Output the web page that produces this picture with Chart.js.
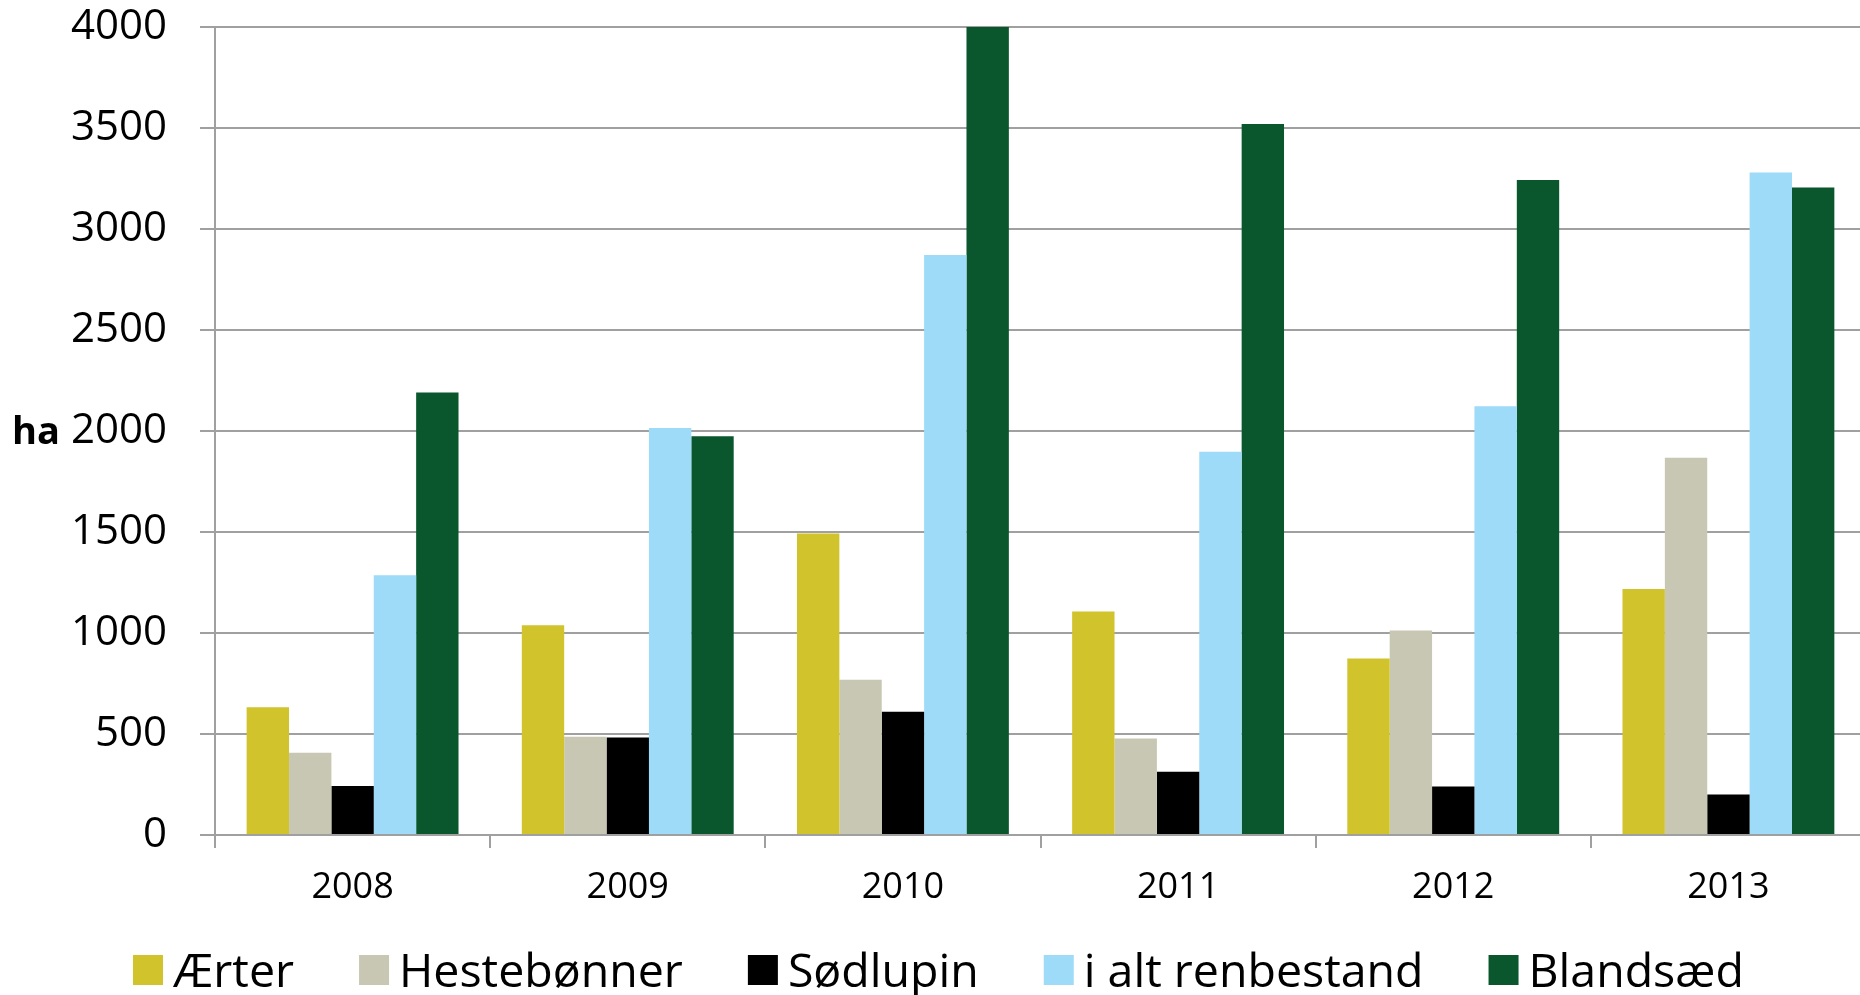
<!DOCTYPE html>
<html>
<head>
<meta charset="utf-8">
<script src="https://cdn.jsdelivr.net/npm/chart.js@4"></script>
<style>
  html, body { margin: 0; padding: 0; background: #ffffff; overflow: hidden; }
  #wrap { width: 1866px; height: 995px; position: relative; }
</style>
</head>
<body>
<div id="wrap"><canvas id="c"></canvas></div>
<script>
const categories = ['2008', '2009', '2010', '2011', '2012', '2013'];
const seriesNames = ['Ærter', 'Hestebønner', 'Sødlupin', 'i alt renbestand', 'Blandsæd'];
const aerter      = [633, 1038, 1492, 1107, 874, 1218];
const hestebonner = [407, 487, 769, 478, 1012, 1868];
const sodlupin    = [242, 483, 610, 313, 240, 200];
const renbestand  = [1286, 2015, 2871, 1897, 2122, 3280];
const blandsaed   = [2191, 1974, 4000, 3520, 3243, 3206];
const yTickMin = 0, yTickMax = 4000, yTickStep = 500;
const yTitle = 'ha';

const colors = ['#D1C32B', '#C8C7B3', '#000000', '#9DDBF8', '#0A572E'];
const seriesData = [aerter, hestebonner, sodlupin, renbestand, blandsaed];
const FONT = "'Open Sans', sans-serif";
const GRID = '#A0A0A0';

const yTitlePlugin = {
  id: 'yTitle',
  afterDraw(chart) {
    const ctx = chart.ctx, a = chart.chartArea;
    ctx.save();
    ctx.font = "bold 38px " + FONT;
    ctx.fillStyle = '#000';
    ctx.textAlign = 'left';
    ctx.textBaseline = 'middle';
    ctx.fillText(yTitle, 12, (a.top + a.bottom) / 2 + 2);
    ctx.restore();
  }
};

const legendPlugin = {
  id: 'customLegend',
  afterDraw(chart) {
    const ctx = chart.ctx;
    ctx.save();
    ctx.font = "46.5px " + FONT;
    ctx.textBaseline = 'alphabetic';
    ctx.textAlign = 'left';
    let x = 133;
    const box = 30, gap = 10, itemGap = 65, baseY = 987, boxTop = 955;
    chart.data.datasets.forEach(ds => {
      ctx.fillStyle = ds.backgroundColor;
      ctx.fillRect(x, boxTop, box, box);
      ctx.fillStyle = '#000';
      ctx.fillText(ds.label, x + box + gap, baseY);
      x += box + gap + ctx.measureText(ds.label).width + itemGap;
    });
    ctx.restore();
  }
};

new Chart(document.getElementById('c'), {
  type: 'bar',
  data: {
    labels: categories,
    datasets: seriesNames.map((n, i) => ({
      label: n,
      data: seriesData[i],
      backgroundColor: colors[i],
      borderWidth: 0,
      categoryPercentage: 0.77,
      barPercentage: 1.0
    }))
  },
  options: {
    responsive: true,
    maintainAspectRatio: false,
    animation: false,
    devicePixelRatio: 1,
    layout: { padding: { top: 27, left: 0, right: 0, bottom: 0 } },
    plugins: { legend: { display: false }, tooltip: { enabled: false } },
    scales: {
      x: {
        grid: { display: true, drawOnChartArea: false, drawTicks: true, tickLength: 13, color: GRID, lineWidth: 2, offset: true },
        border: { display: true, color: GRID, width: 2 },
        ticks: { font: { family: FONT, size: 36 }, color: '#000', padding: 18, maxRotation: 0 },
        afterFit(scale) { scale.height = 160; }
      },
      y: {
        min: yTickMin, max: yTickMax,
        grid: { color: GRID, lineWidth: 2, tickLength: 15, drawTicks: true },
        border: { display: true, color: GRID, width: 2 },
        ticks: {
          stepSize: yTickStep, font: { family: FONT, size: 42 }, color: '#000', padding: 33,
          callback: (v) => String(v)
        },
        afterFit(scale) { scale.width = 215; scale.paddingTop = 0; scale.paddingBottom = 0; }
      }
    }
  },
  plugins: [yTitlePlugin, legendPlugin]
});
</script>
</body>
</html>
